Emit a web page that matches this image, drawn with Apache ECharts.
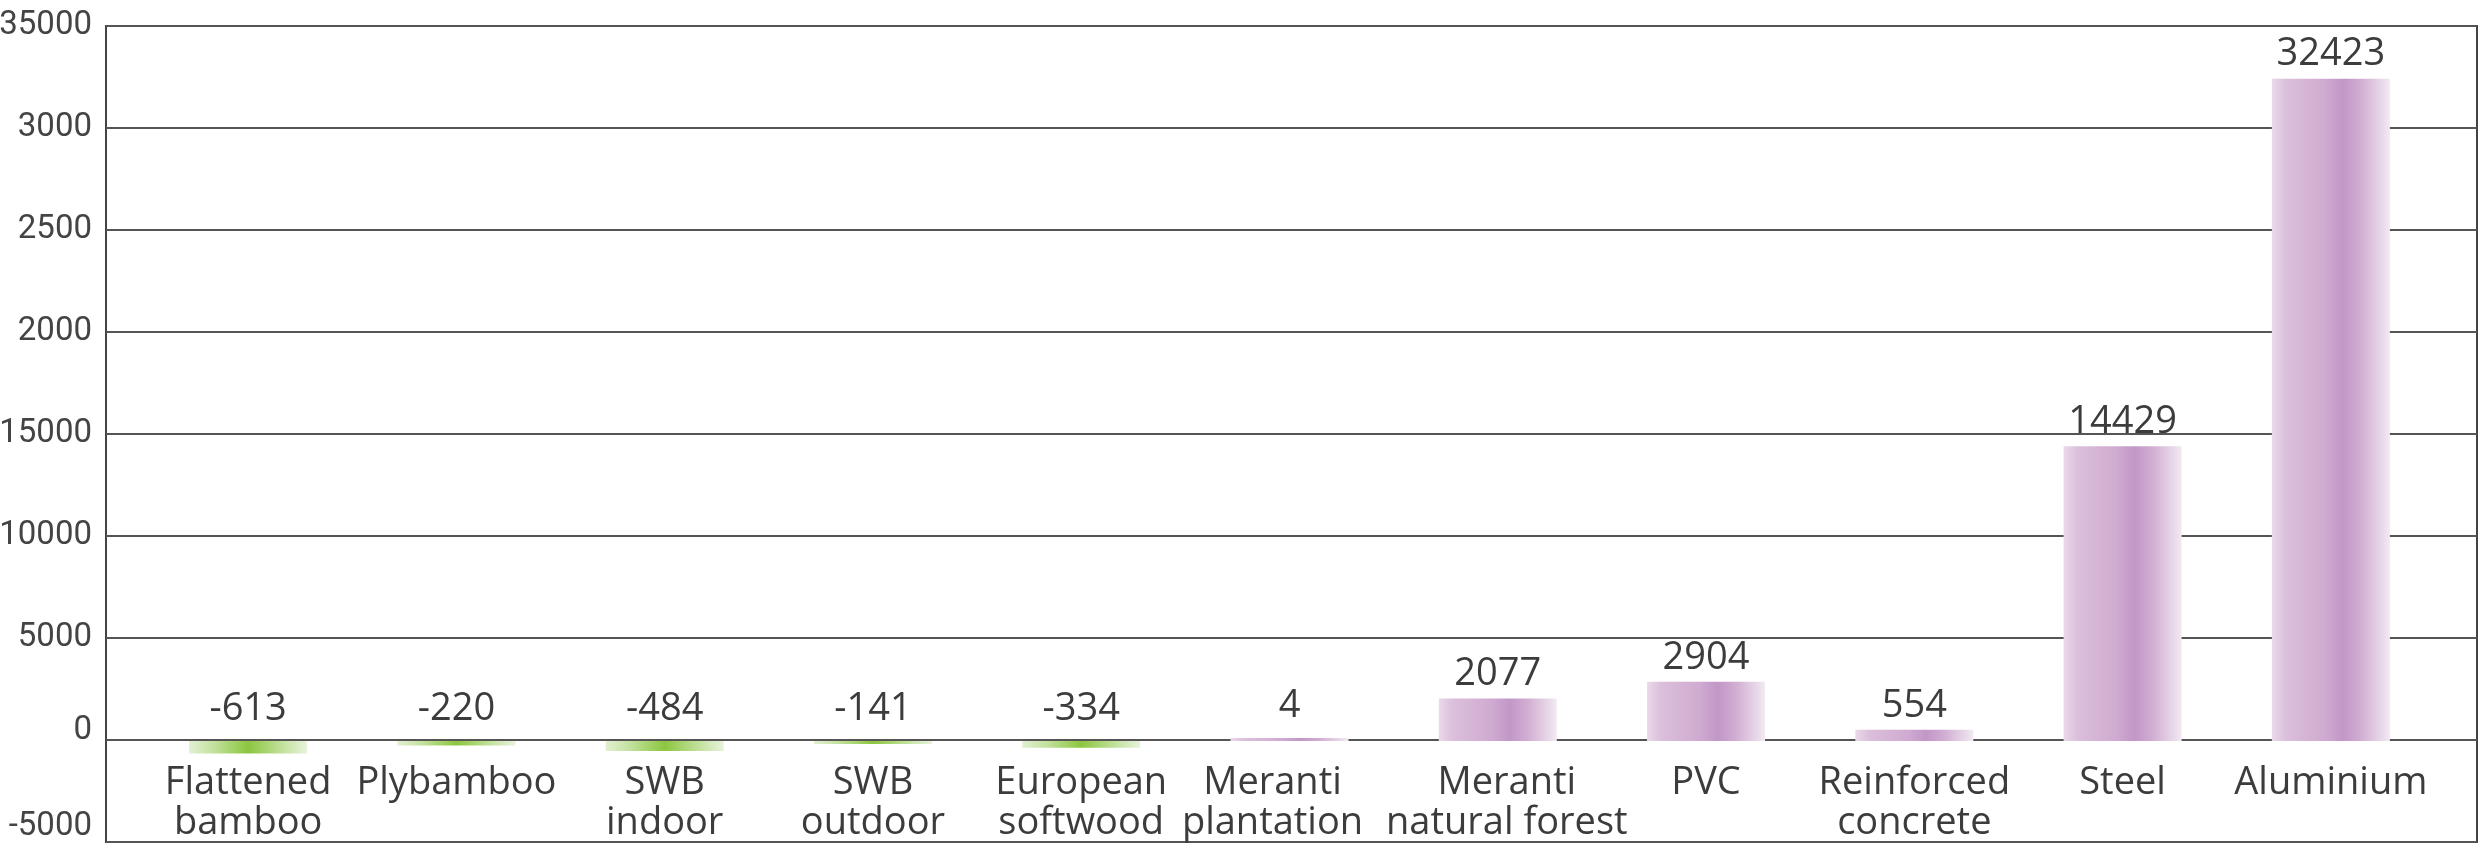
<!DOCTYPE html>
<html>
<head>
<meta charset="utf-8">
<script src="https://cdn.jsdelivr.net/npm/echarts@6/dist/echarts.min.js"></script>
<style>
html,body{margin:0;padding:0;background:#fff;}
#chart{width:2484px;height:846px;}
</style>
</head>
<body>
<div id="chart"></div>
<script>
const categories = ['Flattened\nbamboo','Plybamboo','SWB\nindoor','SWB\noutdoor','European\nsoftwood','Meranti\nplantation','Meranti\nnatural forest','PVC','Reinforced\nconcrete','Steel','Aluminium'];
const values = [-613, -220, -484, -141, -334, 4, 2077, 2904, 554, 14429, 32423];
const tickValues = [-5000, 0, 5000, 10000, 15000, 20000, 25000, 30000, 35000];
const tickLabels = ['-5000', '0', '5000', '10000', '15000', '2000', '2500', '3000', '35000'];

const purple = new echarts.graphic.LinearGradient(0, 0, 1, 0, [
  {offset: 0, color: '#ead9ea'},
  {offset: 0.12, color: '#dbbfdb'},
  {offset: 0.45, color: '#d0aad1'},
  {offset: 0.6, color: '#c297c7'},
  {offset: 0.75, color: '#d1add2'},
  {offset: 0.93, color: '#e8d8e9'},
  {offset: 1, color: '#f2eaf2'}
]);
const green = new echarts.graphic.LinearGradient(0, 0, 1, 0, [
  {offset: 0, color: '#e2f0d2'},
  {offset: 0.2, color: '#c4e2a0'},
  {offset: 0.5, color: '#8cc63f'},
  {offset: 0.8, color: '#c4e2a0'},
  {offset: 1, color: '#e8f3dc'}
]);

const tickFont = 'Roboto';
const catFont = {fontFamily: 'Open Sans', fontSize: 38, lineHeight: 40, color: '#3c3c3c'};
const chart = echarts.init(document.getElementById('chart'));
const textColor = '#3c3c3c';
const bigBounds = {left: -3000, right: -3000, top: -3000, bottom: -3000};
chart.setOption({
  backgroundColor: '#ffffff',
  animation: false,
  grid: [
    {left: 106, right: 7, top: 26, bottom: 4, show: true, borderColor: '#444', borderWidth: 2, backgroundColor: 'transparent', outerBounds: bigBounds},
    {left: 144, right: 49, top: 26, bottom: 105, outerBounds: bigBounds}
  ],
  xAxis: [
    {gridIndex: 0, type: 'category', data: categories, show: false},
    {gridIndex: 1, type: 'category', data: categories, position: 'bottom',
      axisLine: {show: false, onZero: false}, axisTick: {show: false},
      axisLabel: {
        interval: 0, margin: 22, align: 'center', ...catFont,
        formatter: function (name) {
          const lines = name.split('\n');
          let key = null;
          if (name === 'Meranti\nplantation') key = 'shl';
          if (name === 'Meranti\nnatural forest') key = 'shr';
          if (!key) return name;
          return lines.map(l => '{' + key + '|' + l + '}').join('\n');
        },
        rich: {
          shl: Object.assign({padding: [0, 34, 0, 0]}, catFont),
          shr: Object.assign({padding: [0, 0, 0, 18]}, catFont)
        }
      }
    }
  ],
  yAxis: [
    {gridIndex: 0, type: 'value', min: -5000, max: 35000, interval: 5000,
      axisLine: {show: false}, axisTick: {show: false},
      splitLine: {show: true, lineStyle: {color: '#555', width: 2}},
      axisLabel: {
        margin: 14, fontFamily: tickFont, fontSize: 33, color: '#444',
        formatter: function (v) {
          const i = tickValues.indexOf(v);
          const t = i >= 0 ? tickLabels[i] : String(v);
          if (v === -5000) return '{low|' + t + '}';
          if (v === 0) return '{mid|' + t + '}';
          return t;
        },
        rich: {
          low: {fontFamily: tickFont, fontSize: 33, color: '#444', padding: [0, 0, 30, 0]},
          mid: {fontFamily: tickFont, fontSize: 33, color: '#444', padding: [0, 0, 18, 0]}
        }
      }
    },
    {gridIndex: 1, type: 'value', min: 0, max: 35000, interval: 5000, show: false, splitLine: {show: false}}
  ],
  series: [{
    type: 'bar',
    xAxisIndex: 1,
    yAxisIndex: 1,
    clip: false,
    barWidth: 118,
    barMinHeight: 3,
    data: values.map(v => ({
      value: v,
      itemStyle: {color: v < 0 ? green : purple},
      label: {distance: v < 100 ? 13 : 5}
    })),
    label: {
      show: true, position: 'top', distance: 5,
      fontFamily: 'Open Sans', fontSize: 38, color: textColor
    }
  }]
});
</script>
</body>
</html>
